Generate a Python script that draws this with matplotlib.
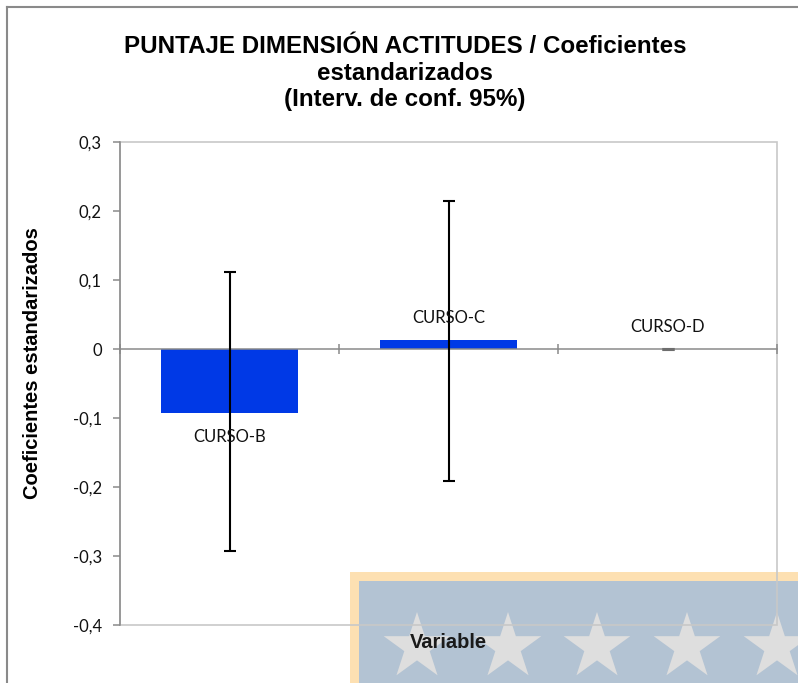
import numpy as np
import matplotlib.pyplot as plt
from matplotlib.patches import Rectangle, Polygon

# datos del grafico
categorias = ['CURSO-B', 'CURSO-C', 'CURSO-D']
coeficientes = [-0.093, 0.013, 0.0]
limite_inferior = [-0.293, -0.191, 0.0]
limite_superior = [0.111, 0.214, 0.0]
ticks_y = [-0.4, -0.3, -0.2, -0.1, 0.0, 0.1, 0.2, 0.3]
etiquetas_y = ['-0,4', '-0,3', '-0,2', '-0,1', '0', '0,1', '0,2', '0,3']

W, H = 798, 683
gris = '#8a8a8a'
gris_claro = '#c8c8c8'

fig = plt.figure(figsize=(W / 100, H / 100), dpi=100)
fig.patch.set_facecolor('white')

# marco exterior del grafico (cortado a la derecha y abajo)
fig.add_artist(plt.Line2D([7 / W, 7 / W], [0, 1 - 7 / H], color=gris, lw=1.5))
fig.add_artist(plt.Line2D([7 / W, 1], [1 - 7 / H, 1 - 7 / H], color=gris, lw=1.5))

# marca de agua con estrellas en la esquina inferior derecha
wm = fig.add_axes([350 / W, 0, (W - 350) / W, (H - 572) / H], zorder=0)
wm.set_xlim(0, W - 350)
wm.set_ylim(H - 572, 0)
wm.axis('off')
wm.add_patch(Rectangle((0, 0), W - 350, H - 572, fc='#fde0b2', ec='none'))
wm.add_patch(Rectangle((9, 9), W - 350, H - 572, fc='#b3c3d3', ec='none'))
R, r = 35, 35 * 0.382
ang = np.pi / 2 + np.arange(10) * np.pi / 5
rad = np.where(np.arange(10) % 2 == 0, R, r)
for cx in [67, 158, 247, 337, 427]:
    pts = np.column_stack([cx + rad * np.cos(ang), 75 - rad * np.sin(ang)])
    wm.add_patch(Polygon(pts, closed=True, fc='#dedede', ec='none'))

# area de trazado
ax = fig.add_axes([120 / W, 1 - 625 / H, 657 / W, 483 / H], zorder=2)
ax.set_facecolor('none')

x = np.arange(len(categorias))
coef = np.array(coeficientes)
err = [coef - np.array(limite_inferior), np.array(limite_superior) - coef]

ax.bar(x, coef, width=0.63, color='#0039e6', zorder=2)
ax.errorbar(x[:2], coef[:2], yerr=[err[0][:2], err[1][:2]], fmt='none',
            ecolor='black', elinewidth=1.5, capsize=4.5, capthick=1.5, zorder=4)
ax.errorbar(x[2:], coef[2:], yerr=[err[0][2:], err[1][2:]], fmt='none',
            ecolor='#6e6e6e', elinewidth=1.5, capsize=4.5, capthick=2.2, zorder=4)

for xi, v, nombre in zip(x, coef, categorias):
    desplaz = -24 if v < 0 else 22
    ax.annotate(nombre, (xi, v), xytext=(0, desplaz), textcoords='offset pixels',
                ha='center', va='center', fontsize=12, family='Lato', color='#111111',
                zorder=5)

ax.set_xlim(-0.5, 2.5)
ax.set_ylim(-0.4, 0.3)

# borde del area de trazado
ax.add_patch(Rectangle((0, 0), 1, 1, transform=ax.transAxes, fill=False,
                       ec=gris_claro, lw=1.2, clip_on=False, zorder=1))
ax.spines['top'].set_visible(False)
ax.spines['right'].set_visible(False)
ax.spines['left'].set_color(gris)
ax.spines['left'].set_linewidth(1.1)
ax.spines['bottom'].set_position(('data', 0))
ax.spines['bottom'].set_color(gris)
ax.spines['bottom'].set_linewidth(1.1)
ax.spines['left'].set_zorder(3)
ax.spines['bottom'].set_zorder(3)

ax.set_yticks(ticks_y)
ax.set_yticklabels(etiquetas_y, fontsize=12, family='Lato', color='#111111')
ax.tick_params(axis='y', direction='out', length=5, width=1.1, color=gris, pad=8)
ax.set_xticks([-0.5, 0.5, 1.5, 2.5])
ax.set_xticklabels([])
ax.tick_params(axis='x', direction='inout', length=7, width=1.1, color=gris)

# titulos
fig.text(405 / W, 1 - 73 / H,
         'PUNTAJE DIMENSIÓN ACTITUDES / Coeficientes\nestandarizados\n(Interv. de conf. 95%)',
         ha='center', va='center', fontsize=17.4, fontweight='bold',
         family='Liberation Sans')
fig.text(33 / W, 1 - 363 / H, 'Coeficientes estandarizados', rotation=90,
         ha='center', va='center', fontsize=14.5, fontweight='bold',
         family='Liberation Sans')
fig.text(448 / W, 1 - 642 / H, 'Variable', ha='center', va='center',
         fontsize=14.5, fontweight='bold', family='Liberation Sans',
         color='#1a1a1a', zorder=5)

fig.savefig('out.png', dpi=100)
